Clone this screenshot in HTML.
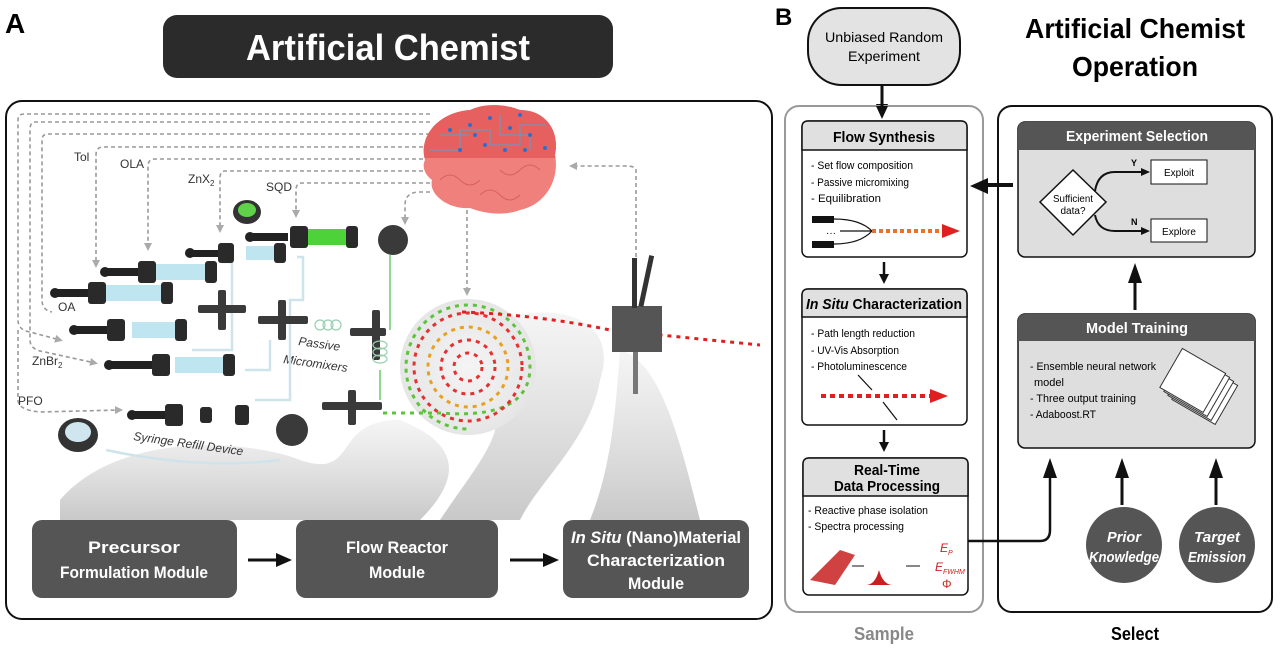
<!DOCTYPE html>
<html><head><meta charset="utf-8"><style>
html,body{margin:0;padding:0;background:#fff;}
svg{display:block;font-family:"Liberation Sans",sans-serif;}
</style></head><body>
<svg width="1280" height="648" viewBox="0 0 1280 648" xmlns="http://www.w3.org/2000/svg">
<defs>
<marker id="ga" markerWidth="8" markerHeight="8" refX="5" refY="4" orient="auto" markerUnits="userSpaceOnUse"><path d="M0,0 L8,4 L0,8 Z" fill="#aaa"/></marker>
<linearGradient id="sh" x1="0" y1="0" x2="0" y2="1"><stop offset="0" stop-color="#ccc" stop-opacity="0.2"/><stop offset="1" stop-color="#bbb" stop-opacity="0.8"/></linearGradient>
<radialGradient id="spg" cx="0.5" cy="0.5" r="0.5"><stop offset="0" stop-color="#f4f4f4"/><stop offset="1" stop-color="#e6e6e6"/></radialGradient>
<clipPath id="bt"><rect x="400" y="100" width="200" height="58"/></clipPath>
</defs>

<text x="5" y="33" font-size="28" font-weight="bold">A</text>
<rect x="163" y="15" width="450" height="63" rx="14" fill="#2b2b2b"/>
<text x="388" y="60" font-size="36" font-weight="bold" fill="#fff" text-anchor="middle" textLength="284" lengthAdjust="spacingAndGlyphs">Artificial Chemist</text>
<rect x="6" y="101" width="766" height="518" rx="16" fill="#fff" stroke="#111" stroke-width="2"/>

<path d="M60,500 C120,430 250,440 300,460 C360,480 330,420 400,420 C450,440 470,470 420,520 L60,520 Z" fill="url(#sh)"/>
<path d="M500,320 C560,300 620,320 600,380 C590,440 540,480 520,520 L440,520 C480,460 520,420 480,390 Z" fill="url(#sh)"/>
<path d="M620,350 C660,360 680,440 700,520 L590,520 C610,470 615,420 620,350 Z" fill="url(#sh)"/>

<g fill="none" stroke="#9a9a9a" stroke-width="1.6" stroke-dasharray="4,3">
<path d="M430,114 H24 Q18,114 18,120 V320 Q18,330 30,332 L60,340" marker-end="url(#ga)"/>
<path d="M430,122 H35 Q30,122 30,130 V340 Q30,350 45,352 L95,363" marker-end="url(#ga)"/>
<path d="M430,134 H48 Q42,134 42,140 V300 Q42,310 52,312" />
<path d="M430,147 H103 Q96,147 96,155 V265" marker-end="url(#ga)"/>
<path d="M430,159 H155 Q148,159 148,166 V248" marker-end="url(#ga)"/>
<path d="M430,171 H225 Q220,171 220,178 V230" marker-end="url(#ga)"/>
<path d="M430,183 H302 Q296,183 296,190 V215" marker-end="url(#ga)"/>
<path d="M430,192 H418 Q405,193 405,205 V222" marker-end="url(#ga)"/>
<path d="M18,330 V400 Q18,410 40,412 L120,410" marker-end="url(#ga)"/>
<path d="M467,210 V293" marker-end="url(#ga)"/>
<path d="M636,285 V170 Q636,166 625,166 H572" marker-end="url(#ga)"/>
</g>

<g font-size="12" fill="#333">
<text x="74" y="161">Tol</text>
<text x="120" y="168">OLA</text>
<text x="188" y="183">ZnX<tspan font-size="8" dy="3">2</tspan></text>
<text x="266" y="191">SQD</text>
<text x="58" y="311">OA</text>
<text x="32" y="365">ZnBr<tspan font-size="8" dy="3">2</tspan></text>
<text x="18" y="405">PFO</text>
<text x="298" y="345" font-style="italic" transform="rotate(8 298 345)">Passive</text>
<text x="283" y="363" font-style="italic" transform="rotate(8 283 363)">Micromixers</text>
<text x="133" y="440" font-style="italic" transform="rotate(8 133 440)">Syringe Refill Device</text>
</g>

<g fill="none" stroke="#cfe3ea" stroke-width="2.5">
<path d="M222,262 H232 V350 H192"/>
<path d="M297,257 H303 V300 H290 V400 H255"/>
<path d="M245,370 H270 V340"/>
<path d="M106,450 Q200,470 280,460"/>
</g>
<g fill="none" stroke="#8fd88f" stroke-width="2">
<path d="M390,255 V330"/><path d="M380,370 V400"/>
</g>

<g>
<g transform="translate(53,293)"><rect x="0" y="-4" width="40" height="8" fill="#222"/><circle cx="2" cy="0" r="5" fill="#222"/><rect x="35" y="-11" width="18" height="22" rx="3" fill="#2a2a2a"/><rect x="53" y="-8" width="58" height="16" fill="#bfe6f0"/><rect x="108" y="-11" width="12" height="22" rx="3" fill="#2a2a2a"/></g>
<g transform="translate(103,272)"><rect x="0" y="-4" width="40" height="8" fill="#222"/><circle cx="2" cy="0" r="5" fill="#222"/><rect x="35" y="-11" width="18" height="22" rx="3" fill="#2a2a2a"/><rect x="53" y="-8" width="52" height="16" fill="#bfe6f0"/><rect x="102" y="-11" width="12" height="22" rx="3" fill="#2a2a2a"/></g>
<g transform="translate(188,253)"><rect x="0" y="-3" width="35" height="7" fill="#222"/><circle cx="2" cy="0" r="5" fill="#222"/><rect x="30" y="-10" width="16" height="20" rx="3" fill="#2a2a2a"/><rect x="58" y="-7" width="30" height="14" fill="#bfe6f0"/><rect x="86" y="-10" width="12" height="20" rx="3" fill="#2a2a2a"/></g>
<g transform="translate(248,237)"><rect x="0" y="-4" width="40" height="8" fill="#222"/><circle cx="2" cy="0" r="5" fill="#222"/><rect x="42" y="-11" width="18" height="22" rx="3" fill="#2a2a2a"/><rect x="60" y="-8" width="40" height="16" fill="#4ed23a"/><rect x="98" y="-11" width="12" height="22" rx="3" fill="#2a2a2a"/></g>
<g transform="translate(72,330)"><rect x="0" y="-4" width="40" height="8" fill="#222"/><circle cx="2" cy="0" r="5" fill="#222"/><rect x="35" y="-11" width="18" height="22" rx="3" fill="#2a2a2a"/><rect x="60" y="-8" width="45" height="16" fill="#bfe6f0"/><rect x="103" y="-11" width="12" height="22" rx="3" fill="#2a2a2a"/></g>
<g transform="translate(107,365)"><rect x="0" y="-4" width="45" height="8" fill="#222"/><circle cx="2" cy="0" r="5" fill="#222"/><rect x="45" y="-11" width="18" height="22" rx="3" fill="#2a2a2a"/><rect x="68" y="-8" width="50" height="16" fill="#bfe6f0"/><rect x="116" y="-11" width="12" height="22" rx="3" fill="#2a2a2a"/></g>
<g transform="translate(130,415)"><rect x="0" y="-4" width="45" height="8" fill="#222"/><circle cx="2" cy="0" r="5" fill="#222"/><rect x="35" y="-11" width="18" height="22" rx="3" fill="#2a2a2a"/><rect x="70" y="-8" width="12" height="16" rx="3" fill="#2a2a2a"/><rect x="105" y="-10" width="14" height="20" rx="3" fill="#2a2a2a"/></g>
</g>
<g fill="#3a3a3a">
<rect x="198" y="305" width="48" height="8" rx="2"/><rect x="218" y="290" width="8" height="40" rx="2"/>
<rect x="258" y="316" width="50" height="8" rx="2"/><rect x="278" y="300" width="8" height="40" rx="2"/>
<rect x="350" y="328" width="36" height="8" rx="2"/><rect x="372" y="310" width="8" height="50" rx="2"/>
<rect x="322" y="402" width="60" height="8" rx="2"/><rect x="348" y="390" width="8" height="35" rx="2"/>
<circle cx="393" cy="240" r="15"/><circle cx="292" cy="430" r="16"/>
<ellipse cx="247" cy="212" rx="14" ry="12" fill="#333"/><ellipse cx="247" cy="210" rx="9" ry="7" fill="#5fd24a"/>
<ellipse cx="78" cy="435" rx="20" ry="17" fill="#333"/><ellipse cx="78" cy="432" rx="13" ry="10" fill="#cfe6ee"/>
</g>
<g fill="none" stroke="#9ad0b0" stroke-width="1.2"><circle cx="320" cy="325" r="5"/><circle cx="328" cy="325" r="5"/><circle cx="336" cy="325" r="5"/><ellipse cx="380" cy="345" rx="7" ry="4"/><ellipse cx="380" cy="352" rx="7" ry="4"/><ellipse cx="380" cy="359" rx="7" ry="4"/></g>

<circle cx="468" cy="367" r="68" fill="url(#spg)"/>
<g fill="none" stroke-width="3" stroke-dasharray="4,5">
<path d="M383,413 H440 Q530,420 530,367 A62,62 0 1 0 406,367 A62,62 0 0 0 468,429" stroke="#5cc33a"/>
<circle cx="468" cy="367" r="54" stroke="#e43030"/>
<circle cx="468" cy="367" r="40" stroke="#e8a020"/>
<circle cx="468" cy="367" r="27" stroke="#e43030"/>
<circle cx="468" cy="367" r="14" stroke="#e43030"/>
<path d="M462,312 Q540,315 610,330 L760,345" stroke="#e02020"/>
</g>
<rect x="612" y="306" width="50" height="46" fill="#555"/>
<rect x="632" y="258" width="5" height="50" fill="#333"/><rect x="644" y="255" width="5" height="52" fill="#333" transform="rotate(12 646 280)"/>
<rect x="633" y="352" width="5" height="42" fill="#777"/>

<!-- brain -->
<path id="brain" d="M425,160 C418,135 440,112 470,110 C485,103 505,104 520,110 C545,110 560,130 555,155 C560,180 545,205 520,210 C505,216 485,214 470,208 C450,210 428,195 432,180 C424,174 422,166 425,160 Z" fill="#f0807c"/>
<path d="M425,160 C418,135 440,112 470,110 C485,103 505,104 520,110 C545,110 560,130 555,155 C560,180 545,205 520,210 C505,216 485,214 470,208 C450,210 428,195 432,180 C424,174 422,166 425,160 Z" fill="#e5605e" clip-path="url(#bt)"/>
<g fill="none" stroke="#5aa0d0" stroke-width="1" clip-path="url(#bt)"><path d="M430,150 H460 V130 H490 V145 H520 V125 H545 M440,135 H470 M500,115 V135 H530 V150"/></g>
<g fill="none" stroke="#d86060" stroke-width="1"><path d="M440,180 q10,-10 20,0 t20,0 M480,195 q10,-10 20,0 t20,0 M500,170 q10,10 20,0 t20,0"/></g>
<g fill="#2a6fd0"><circle cx="450" cy="130" r="2"/><circle cx="470" cy="125" r="2"/><circle cx="490" cy="118" r="2"/><circle cx="510" cy="128" r="2"/><circle cx="530" cy="135" r="2"/><circle cx="545" cy="148" r="2"/><circle cx="460" cy="150" r="2"/><circle cx="485" cy="145" r="2"/><circle cx="505" cy="150" r="2"/><circle cx="525" cy="150" r="2"/><circle cx="475" cy="135" r="2"/><circle cx="520" cy="115" r="2"/></g>

<g fill="#555">
<rect x="32" y="520" width="205" height="78" rx="10"/>
<rect x="296" y="520" width="202" height="78" rx="10"/>
<rect x="563" y="520" width="186" height="78" rx="10"/>
</g>
<g fill="#fff" font-size="17" font-weight="bold" text-anchor="middle">
<text x="134" y="553" textLength="92" lengthAdjust="spacingAndGlyphs">Precursor</text><text x="134" y="578" textLength="148" lengthAdjust="spacingAndGlyphs">Formulation Module</text>
<text x="397" y="553" textLength="102" lengthAdjust="spacingAndGlyphs">Flow Reactor</text><text x="397" y="578" textLength="56" lengthAdjust="spacingAndGlyphs">Module</text>
<text x="656" y="543" textLength="170" lengthAdjust="spacingAndGlyphs"><tspan font-style="italic">In Situ</tspan> (Nano)Material</text><text x="656" y="566" textLength="138" lengthAdjust="spacingAndGlyphs">Characterization</text><text x="656" y="589" textLength="56" lengthAdjust="spacingAndGlyphs">Module</text>
</g>
<g stroke="#111" stroke-width="3"><line x1="248" y1="560" x2="278" y2="560"/><line x1="510" y1="560" x2="545" y2="560"/></g>
<g fill="#111"><path d="M276,553 L292,560 L276,567Z"/><path d="M543,553 L559,560 L543,567Z"/></g>

<!-- Panel B -->
<text x="775" y="25" font-size="24" font-weight="bold">B</text>
<rect x="808" y="8" width="152" height="77" rx="34" fill="#e3e3e3" stroke="#111" stroke-width="2"/>
<text x="884" y="42" font-size="14" text-anchor="middle" textLength="118" lengthAdjust="spacingAndGlyphs">Unbiased Random</text>
<text x="884" y="61" font-size="14" text-anchor="middle" textLength="72" lengthAdjust="spacingAndGlyphs">Experiment</text>
<line x1="882" y1="85" x2="882" y2="108" stroke="#111" stroke-width="3"/><path d="M876,104 L882,117 L888,104Z" fill="#111"/>
<text x="1135" y="38" font-size="28" font-weight="bold" text-anchor="middle" textLength="220" lengthAdjust="spacingAndGlyphs">Artificial Chemist</text>
<text x="1135" y="76" font-size="28" font-weight="bold" text-anchor="middle" textLength="126" lengthAdjust="spacingAndGlyphs">Operation</text>

<rect x="785" y="106" width="198" height="506" rx="14" fill="#fff" stroke="#999" stroke-width="2"/>
<rect x="998" y="106" width="274" height="506" rx="14" fill="#fff" stroke="#111" stroke-width="2"/>
<line x1="882" y1="100" x2="882" y2="110" stroke="#111" stroke-width="3"/><path d="M876,106 L882,119 L888,106Z" fill="#111"/>
<text x="884" y="640" font-size="18" font-weight="bold" fill="#888" text-anchor="middle" textLength="60" lengthAdjust="spacingAndGlyphs">Sample</text>
<text x="1135" y="640" font-size="18" font-weight="bold" text-anchor="middle" textLength="48" lengthAdjust="spacingAndGlyphs">Select</text>

<rect x="802" y="121" width="165" height="136" rx="6" fill="#fff" stroke="#111" stroke-width="1.5"/>
<path d="M808,121 H961 Q967,121 967,127 V150 H802 V127 Q802,121 808,121Z" fill="#e0e0e0" stroke="#111" stroke-width="1.5"/>
<text x="884" y="142" font-size="15" font-weight="bold" text-anchor="middle" textLength="102" lengthAdjust="spacingAndGlyphs">Flow Synthesis</text>
<g font-size="11"><text x="811" y="169" textLength="102" lengthAdjust="spacingAndGlyphs">- Set flow composition</text><text x="811" y="186" textLength="98" lengthAdjust="spacingAndGlyphs">- Passive micromixing</text><text x="811" y="202" textLength="70" lengthAdjust="spacingAndGlyphs">- Equilibration</text></g>
<rect x="812" y="216" width="22" height="7" fill="#111"/><rect x="812" y="241" width="22" height="7" fill="#111"/>
<text x="826" y="236" font-size="10">···</text>
<path d="M834,219 Q860,219 872,231 M834,244 Q860,244 872,231 M840,231 H872" fill="none" stroke="#111" stroke-width="1.2"/>
<line x1="872" y1="231" x2="945" y2="231" stroke="#e87030" stroke-width="4" stroke-dasharray="4,3"/>
<path d="M942,224 L960,231 L942,238Z" fill="#e02020"/>
<line x1="884" y1="262" x2="884" y2="276" stroke="#111" stroke-width="2.5"/><path d="M879,274 L884,284 L889,274Z" fill="#111"/>

<rect x="802" y="289" width="165" height="136" rx="6" fill="#fff" stroke="#111" stroke-width="1.5"/>
<path d="M808,289 H961 Q967,289 967,295 V317 H802 V295 Q802,289 808,289Z" fill="#e0e0e0" stroke="#111" stroke-width="1.5"/>
<text x="884" y="309" font-size="15" font-weight="bold" text-anchor="middle" textLength="156" lengthAdjust="spacingAndGlyphs"><tspan font-style="italic">In Situ</tspan> Characterization</text>
<g font-size="11"><text x="811" y="337" textLength="104" lengthAdjust="spacingAndGlyphs">- Path length reduction</text><text x="811" y="354" textLength="88" lengthAdjust="spacingAndGlyphs">- UV-Vis Absorption</text><text x="811" y="370" textLength="96" lengthAdjust="spacingAndGlyphs">- Photoluminescence</text></g>
<line x1="821" y1="396" x2="935" y2="396" stroke="#e02020" stroke-width="4" stroke-dasharray="5,4"/>
<path d="M930,389 L948,396 L930,403Z" fill="#e02020"/>
<path d="M858,375 L872,390 M883,402 L897,420" stroke="#111" stroke-width="1.2"/>
<line x1="884" y1="430" x2="884" y2="444" stroke="#111" stroke-width="2.5"/><path d="M879,442 L884,452 L889,442Z" fill="#111"/>

<rect x="803" y="458" width="165" height="137" rx="6" fill="#fff" stroke="#111" stroke-width="1.5"/>
<path d="M809,458 H962 Q968,458 968,464 V496 H803 V464 Q803,458 809,458Z" fill="#e0e0e0" stroke="#111" stroke-width="1.5"/>
<text x="887" y="475" font-size="15" font-weight="bold" text-anchor="middle" textLength="66" lengthAdjust="spacingAndGlyphs">Real-Time</text>
<text x="887" y="491" font-size="15" font-weight="bold" text-anchor="middle" textLength="106" lengthAdjust="spacingAndGlyphs">Data Processing</text>
<g font-size="11"><text x="808" y="514" textLength="120" lengthAdjust="spacingAndGlyphs">- Reactive phase isolation</text><text x="808" y="530" textLength="96" lengthAdjust="spacingAndGlyphs">- Spectra processing</text></g>
<path d="M810,580 L840,550 L855,555 L835,585Z" fill="#c82020" opacity="0.85"/>
<path d="M866,585 Q875,585 879,570 Q883,585 893,585Z" fill="#c82020"/>
<g stroke="#111" stroke-width="1"><line x1="852" y1="566" x2="864" y2="566"/><line x1="906" y1="566" x2="920" y2="566"/></g>
<g fill="#d02020" font-style="italic" font-size="12"><text x="940" y="552">E<tspan font-size="7" dy="3">P</tspan></text><text x="935" y="571">E<tspan font-size="7" dy="3">FWHM</tspan></text><text x="942" y="588" font-style="normal">Φ</text></g>
<path d="M968,541 H1040 Q1050,541 1050,530 V475" fill="none" stroke="#111" stroke-width="2.5"/>
<path d="M1043,478 L1050,458 L1057,478Z" fill="#111"/>

<rect x="1018" y="122" width="237" height="135" rx="7" fill="#dedede" stroke="#111" stroke-width="1.5"/>
<path d="M1025,122 H1248 Q1255,122 1255,129 V150 H1018 V129 Q1018,122 1025,122Z" fill="#555"/>
<text x="1137" y="141" font-size="15" font-weight="bold" fill="#fff" text-anchor="middle" textLength="142" lengthAdjust="spacingAndGlyphs">Experiment Selection</text>
<path d="M1040,202 L1073,170 L1106,202 L1073,235Z" fill="#fff" stroke="#111" stroke-width="1.5"/>
<text x="1073" y="202" font-size="10" text-anchor="middle" textLength="40" lengthAdjust="spacingAndGlyphs">Sufficient</text><text x="1073" y="214" font-size="10" text-anchor="middle">data?</text>
<path d="M1095,191 Q1098,172 1115,172 H1145 M1095,215 Q1098,231 1115,231 H1145" fill="none" stroke="#111" stroke-width="2"/>
<path d="M1141,168 L1150,172 L1141,176Z M1141,227 L1150,231 L1141,235Z" fill="#111"/>
<text x="1131" y="166" font-size="9" font-weight="bold">Y</text><text x="1131" y="225" font-size="9" font-weight="bold">N</text>
<rect x="1151" y="160" width="56" height="24" fill="#fff" stroke="#111"/><text x="1179" y="176" font-size="10" text-anchor="middle">Exploit</text>
<rect x="1151" y="219" width="56" height="23" fill="#fff" stroke="#111"/><text x="1179" y="235" font-size="10" text-anchor="middle">Explore</text>
<line x1="1135" y1="310" x2="1135" y2="280" stroke="#111" stroke-width="3"/><path d="M1128,283 L1135,263 L1142,283Z" fill="#111"/>

<rect x="1018" y="314" width="237" height="134" rx="7" fill="#dedede" stroke="#111" stroke-width="1.5"/>
<path d="M1025,314 H1248 Q1255,314 1255,321 V341 H1018 V321 Q1018,314 1025,314Z" fill="#555"/>
<text x="1137" y="333" font-size="15" font-weight="bold" fill="#fff" text-anchor="middle" textLength="102" lengthAdjust="spacingAndGlyphs">Model Training</text>
<g font-size="11"><text x="1030" y="370" textLength="126" lengthAdjust="spacingAndGlyphs">- Ensemble neural network</text><text x="1034" y="386">model</text><text x="1030" y="402" textLength="106" lengthAdjust="spacingAndGlyphs">- Three output training</text><text x="1030" y="418" textLength="66" lengthAdjust="spacingAndGlyphs">- Adaboost.RT</text></g>
<g fill="#fff" stroke="#333" stroke-width="1">
<rect x="1180" y="370" width="50" height="45" transform="rotate(30 1205 392)"/>
<rect x="1176" y="366" width="50" height="45" transform="rotate(30 1201 388)"/>
<rect x="1172" y="362" width="50" height="45" transform="rotate(30 1197 384)"/>
<rect x="1168" y="358" width="50" height="45" transform="rotate(30 1193 380)"/>
</g>
<g stroke="#111" stroke-width="3"><line x1="1122" y1="505" x2="1122" y2="475"/><line x1="1216" y1="505" x2="1216" y2="475"/></g>
<path d="M1115,478 L1122,458 L1129,478Z M1209,478 L1216,458 L1223,478Z" fill="#111"/>
<circle cx="1124" cy="545" r="38" fill="#555"/><circle cx="1217" cy="545" r="38" fill="#555"/>
<g fill="#fff" font-size="15" font-weight="bold" font-style="italic" text-anchor="middle">
<text x="1124" y="542" textLength="34" lengthAdjust="spacingAndGlyphs">Prior</text><text x="1124" y="562" textLength="70" lengthAdjust="spacingAndGlyphs">Knowledge</text>
<text x="1217" y="542" textLength="46" lengthAdjust="spacingAndGlyphs">Target</text><text x="1217" y="562" textLength="58" lengthAdjust="spacingAndGlyphs">Emission</text></g>
<path d="M1013,185 H985" stroke="#111" stroke-width="4"/><path d="M988,178 L970,186 L988,194Z" fill="#111"/>
</svg>
</body></html>
